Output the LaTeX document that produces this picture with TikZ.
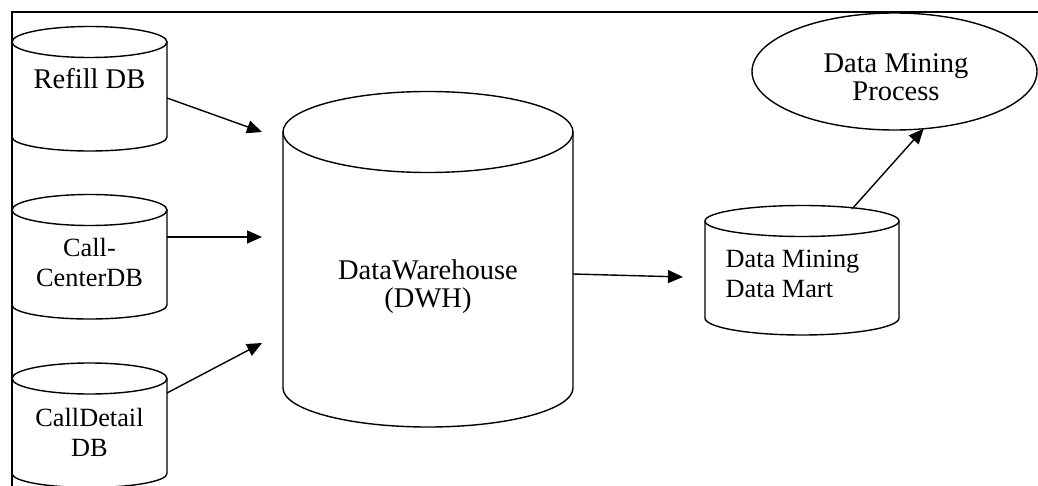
\documentclass[tikz,border=0pt]{standalone}
\usepackage{fontspec}
\setmainfont{Liberation Serif}
\usetikzlibrary{arrows.meta,shapes.geometric}
\begin{document}
\begin{tikzpicture}[x=1pt,y=-1pt,line width=1.4pt,
body/.style={draw=none,inner sep=0pt,outer sep=0pt,minimum width=155pt,minimum height=95pt},
txt/.style={align=center,inner sep=0pt,font=\fontsize{26.3}{30}\selectfont},
bigtxt/.style={align=center,inner sep=0pt,font=\fontsize{28.5}{27.5}\selectfont},
proc/.style={ellipse,draw,inner sep=0pt,outer sep=0pt,minimum width=285pt,minimum height=117pt},
feed/.style={-{Triangle[length=15pt,width=13pt]}}
]
\useasboundingbox (0,0) rectangle (1038,486);
\draw (1038,12) -- (12,12) -- (12,486);
\node[body] (refill) at (89.5,89.5) {};
\node[body] (callc) at (89.5,257.5) {};
\node[body] (calld) at (89.5,426) {};
\node[body,minimum width=290pt,minimum height=256pt] (dwh) at (428,260) {};
\node[body,minimum width=194pt,minimum height=97pt] (mart) at (802,269.5) {};
\node[proc] (mining) at (894.5,71.5) {};
\foreach \db in {refill,callc,calld}{
  \draw (\db.north west) -- (\db.south west) arc[start angle=180,end angle=360,x radius=77.5pt,y radius=14pt] -- (\db.north east);
  \draw (\db.north) ellipse[x radius=77.5pt,y radius=15.5pt];
}
\draw (dwh.north west) -- (dwh.south west) arc[start angle=180,end angle=360,x radius=145pt,y radius=39pt] -- (dwh.north east);
\draw (dwh.north) ellipse[x radius=145pt,y radius=40.5pt];
\draw (mart.north west) -- (mart.south west) arc[start angle=180,end angle=360,x radius=97pt,y radius=17pt] -- (mart.north east);
\draw (mart.north) ellipse[x radius=97pt,y radius=15.5pt];
\node[bigtxt] (refillname) at (89.5,79) {Refill DB};
\node[txt] (callcname) at (89.5,263) {Call-\\CenterDB};
\node[txt] (calldname) at (89.5,432) {CallDetail\\DB};
\node[bigtxt] (dwhname) at (428,286.5) {DataWarehouse\\(DWH)};
\node[txt,align=left,anchor=west] (martname) at (725,274) {Data Mining\\Data Mart};
\node[bigtxt] (miningname) at (896,77) {Data Mining\\Process};
\coordinate (in1) at (262,132);
\coordinate (in2) at (262,237);
\coordinate (in3) at (262,343);
\coordinate (in4) at (683,277);
\draw[feed] ([yshift=-8.5pt]refill.east) -- (in1);
\draw[feed] ([yshift=20.5pt]callc.east) -- (in2);
\draw[feed] ([yshift=33pt]calld.east) -- (in3);
\draw[feed] ([yshift=-14pt]dwh.east) -- (in4);
\draw[feed] ([shift={(50pt,12pt)}]mart.north) -- (mining.-63);
\end{tikzpicture}
\end{document}
